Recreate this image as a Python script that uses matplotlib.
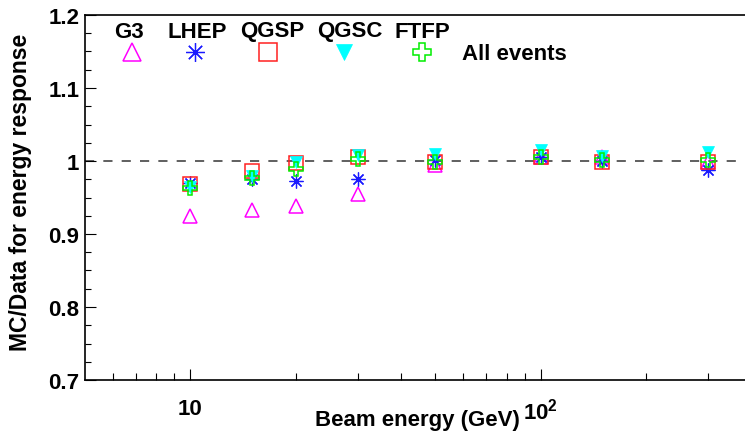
import matplotlib
matplotlib.use("Agg")
import matplotlib.pyplot as plt
from matplotlib.ticker import FixedLocator, FixedFormatter, MultipleLocator, FormatStrFormatter

plt.rcParams['font.family'] = ['Liberation Sans', 'DejaVu Sans']
plt.rcParams['font.weight'] = 'bold'
plt.rcParams['mathtext.fontset'] = 'custom'
plt.rcParams['mathtext.rm'] = 'Liberation Sans:bold'
plt.rcParams['mathtext.bf'] = 'Liberation Sans:bold'

# beam energies (GeV) and MC/Data ratio of the energy response per physics list
energy = [10, 15, 20, 30, 50, 100, 150, 300]
g3 = [0.925, 0.933, 0.939, 0.955, 0.995, 1.006, 1.006, 0.999]
lhep = [0.970, 0.976, 0.973, 0.975, 1.001, 1.005, 1.000, 0.987]
qgsp = [0.969, 0.986, 0.997, 1.006, 0.998, 1.006, 0.998, 0.998]
qgsc = [0.965, 0.980, 0.998, 1.008, 1.010, 1.015, 1.007, 1.013]
ftfp = [0.963, 0.977, 0.989, 1.003, 0.999, 1.005, 1.002, 1.002]

names = ["G3", "LHEP", "QGSP", "QGSC", "FTFP"]
series = [g3, lhep, qgsp, qgsc, ftfp]

styles = [
    dict(marker='^', mfc='none', mec='#ff00ff', mew=1.1),
    dict(marker=(8, 2, 0), color='#1a1aff', mec='#1a1aff', mew=0.9),
    dict(marker='s', mfc='none', mec='#ff2020', mew=1.1),
    dict(marker='v', mfc='#00ffff', mec='#00ffff', mew=0.5),
    dict(marker='P', mfc='none', mec='#00ee00', mew=1.1),
]
data_ms = [10, 10, 9.5, 9, 9.5]
legend_ms = [12.5, 13.5, 12.5, 12, 12.5]
# legend column positions in pixels: header text x, marker x
head_x = [129, 197, 272, 350, 422]
mark_x = [132, 195, 268, 344, 422]

fig = plt.figure(figsize=(7.45, 4.35), dpi=100)
W, H = 745.0, 435.0
x0, x1, y0, y1 = 85, 745, 16, 381
ax = fig.add_axes([x0 / W, 1 - y1 / H, (x1 - x0) / W, (y1 - y0) / H])

ax.set_xscale('log')
ax.set_xlim(5, 383)
ax.set_ylim(0.7, 1.2)

ax.axhline(1.0, color='#444444', lw=1.2, ls=(0, (5.5, 5.5)), zorder=1)

for vals, st, ms in zip(series, styles, data_ms):
    ax.plot(energy, vals, ls='none', ms=ms, zorder=3, **st)

# legend block
fx = lambda px: (px - x0) / (x1 - x0)
fy = lambda py: (y1 - py) / (y1 - y0)
for name, hx, mx, st, ms in zip(names, head_x, mark_x, styles, legend_ms):
    ax.text(fx(hx), fy(32), name, transform=ax.transAxes, ha='center', va='center',
            fontsize=16, fontweight='bold')
    ax.plot([fx(mx)], [fy(53)], transform=ax.transAxes, ls='none', ms=ms,
            clip_on=False, **st)
ax.text(fx(462), fy(54), "All events", transform=ax.transAxes, ha='left', va='center',
        fontsize=16, fontweight='bold')

# axes frame and ticks
for side in ['left', 'bottom', 'top']:
    ax.spines[side].set_linewidth(1.2)
ax.spines['right'].set_visible(False)

ax.yaxis.set_major_locator(MultipleLocator(0.1))
ax.yaxis.set_minor_locator(MultipleLocator(0.025))
ax.yaxis.set_major_formatter(FormatStrFormatter('%g'))
ax.xaxis.set_major_locator(FixedLocator([10, 100]))
ax.xaxis.set_major_formatter(FixedFormatter(['10', r'$\mathbf{10^{2}}$']))
ax.xaxis.set_minor_locator(FixedLocator([6, 7, 8, 9, 20, 30, 40, 50, 60, 70, 80, 90, 200, 300]))
ax.xaxis.set_minor_formatter(FixedFormatter([]))

ax.tick_params(axis='y', which='major', direction='in', length=8, width=0.8, pad=4,
               labelsize=16, right=False)
ax.tick_params(axis='y', which='minor', direction='in', length=4.5, width=0.8, right=False)
ax.tick_params(axis='x', which='major', direction='in', length=8, width=0.8, pad=13,
               labelsize=16, top=False)
ax.tick_params(axis='x', which='minor', direction='in', length=5, width=0.8, top=False)
for lab in ax.get_xticklabels() + ax.get_yticklabels():
    lab.set_fontweight('bold')

ax.set_xlabel("Beam energy (GeV)", fontsize=16, fontweight='bold', ha='right', va='center')
ax.xaxis.set_label_coords(fx(520), fy(421))
ax.set_ylabel("MC/Data for energy response", fontsize=16.5, fontweight='bold',
              ha='center', va='center')
ax.yaxis.set_label_coords(fx(21), fy(192))

fig.savefig("out.png", dpi=100)
